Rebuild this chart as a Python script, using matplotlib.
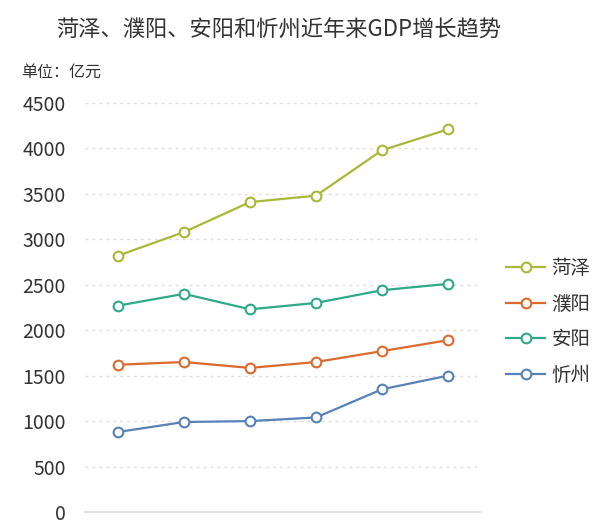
import numpy as np
import matplotlib.pyplot as plt

plt.rcParams['font.family'] = ['Noto Sans CJK SC', 'DejaVu Sans']

title = "菏泽、濮阳、安阳和忻州近年来GDP增长趋势"
unit_label = "单位：亿元"
years = ["2015", "2016", "2017", "2018", "2019", "2020"]
cities = ["菏泽", "濮阳", "安阳", "忻州"]
heze = [2820, 3080, 3410, 3480, 3980, 4210]
puyang = [1620, 1650, 1585, 1650, 1770, 1890]
anyang = [2270, 2400, 2230, 2300, 2440, 2510]
xinzhou = [880, 990, 1000, 1040, 1350, 1500]
colors = ["#a9b838", "#dc6a2e", "#2ea98b", "#5682b8"]

fig = plt.figure(figsize=(6, 5.22), dpi=100)
ax = fig.add_axes([0.1417, 0.0192, 0.66, 0.7835])

x = np.arange(len(years))
for name, vals, c in zip(cities, [heze, puyang, anyang, xinzhou], colors):
    ax.plot(x, vals, color=c, lw=1.6, marker='o', ms=7,
            mfc='white', mec=c, mew=1.5, label=name)

ax.set_xlim(-0.5, len(years) - 0.5)
ax.set_ylim(0, 4500)
ax.set_yticks(np.arange(0, 4501, 500))
ax.set_xticks([])
ax.tick_params(axis='y', length=0, pad=14, labelsize=14, labelcolor='#333333')
ax.yaxis.grid(True, color='#dddddd', linestyle=(0, (2, 3)), lw=1)
ax.set_axisbelow(True)
for s in ['top', 'right', 'left']:
    ax.spines[s].set_visible(False)
ax.spines['bottom'].set_color('#e3e3e3')
ax.spines['bottom'].set_linewidth(1.5)

fig.text(0.465, 0.942, title, ha='center', va='center', fontsize=16, color='#333333')
fig.text(0.035, 0.862, unit_label, ha='left', va='center', fontsize=11.5, color='#333333')

leg = ax.legend(loc='center left', bbox_to_anchor=(1.02, 0.465), frameon=False,
                fontsize=14, labelcolor='#333333', handlelength=2.0,
                handletextpad=0.3, labelspacing=0.75, borderaxespad=0.5)

fig.savefig("out.png", dpi=100)
